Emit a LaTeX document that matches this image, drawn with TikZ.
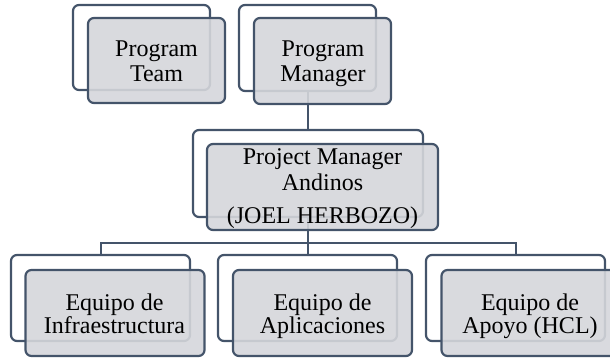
\documentclass[tikz,border=0pt]{standalone}
\usepackage{fontspec}
\setmainfont{Liberation Serif}
\definecolor{edge}{HTML}{44546A}
\definecolor{card}{HTML}{D5D6DB}
\begin{document}
\begin{tikzpicture}[x=1pt,y=-1pt,
  back/.style={draw=edge,line width=2.2pt,rounded corners=6pt,fill=white,inner sep=0pt},
  front/.style={draw=edge,line width=2.2pt,rounded corners=6pt,fill=card,fill opacity=0.9,inner sep=0pt},
  wire/.style={draw=edge,line width=2pt},
  lbl/.style={font=\fontsize{24}{25}\selectfont,anchor=base,inner sep=0pt}]
\useasboundingbox (0,0) rectangle (610,358);
\clip (0,0) rectangle (610,358);

% outlined back cards
\node[back,minimum width=137pt,minimum height=85pt] (pt)  at (141.5,47.5) {};
\node[back,minimum width=137pt,minimum height=86pt] (pm)  at (307.5,48) {};
\node[back,minimum width=230pt,minimum height=87pt] (pma) at (308,173.5) {};
\node[back,minimum width=179pt,minimum height=86pt] (inf) at (100.5,298) {};
\node[back,minimum width=179pt,minimum height=86pt] (app) at (307.5,298) {};
\node[back,minimum width=179pt,minimum height=86pt] (apo) at (515.5,298) {};

% connectors
\coordinate (bus) at (308,243);
\draw[wire] (pm.south) -- (pm.south |- pma.north);
\draw[wire] (pma.south) -- (pma.south |- bus);
\draw[wire] (inf.north) |- (bus) -| (apo.north);
\draw[wire] (app.north) -- (app.north |- bus);

% shaded front cards
\node[front,minimum width=137pt,minimum height=85pt] (ptf)  at (156.5,60.5) {};
\node[front,minimum width=137pt,minimum height=86pt] (pmf)  at (322.5,61) {};
\node[front,minimum width=231pt,minimum height=86pt] (pmaf) at (322.5,187) {};
\node[front,minimum width=179pt,minimum height=86pt] (inff) at (115,313) {};
\node[front,minimum width=179pt,minimum height=86pt] (appf) at (322.5,313) {};
\node[front,minimum width=179pt,minimum height=86pt] (apof) at (531,313) {};

% labels
\node[lbl] (t1a) at (156.5,57) {Program};
\node[lbl] (t1b) at (156.5,82) {Team};
\node[lbl] (t2a) at (323,57) {Program};
\node[lbl] (t2b) at (323,82) {Manager};
\node[lbl] (t3a) at (322.5,165) {Project Manager};
\node[lbl] (t3b) at (322.5,190) {Andinos};
\node[lbl] (t3c) at (322.5,223) {(JOEL HERBOZO)};
\node[lbl] (t4a) at (114.5,310) {Equipo de};
\node[lbl] (t4b) at (114.5,333) {Infraestructura};
\node[lbl] (t5a) at (322.5,310) {Equipo de};
\node[lbl] (t5b) at (322.5,333) {Aplicaciones};
\node[lbl] (t6a) at (530,310) {Equipo de};
\node[lbl] (t6b) at (530,333) {Apoyo (HCL)};
\end{tikzpicture}
\end{document}
